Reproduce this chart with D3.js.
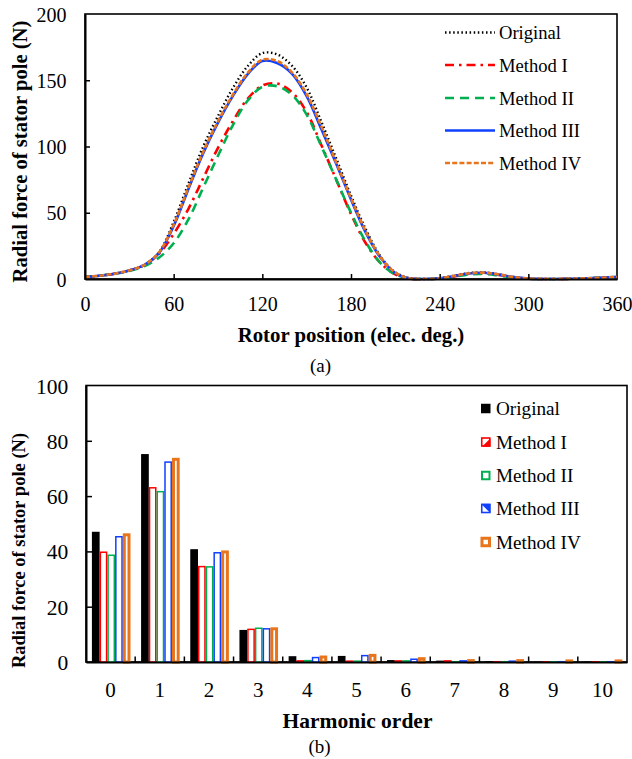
<!DOCTYPE html>
<html><head><meta charset="utf-8">
<script src="https://cdn.jsdelivr.net/npm/d3@7"></script>
<style>
body{margin:0;background:#fff}
svg{display:block}
svg text{font-family:'Liberation Serif','Times New Roman',Times,serif !important;fill:#000}
</style>
</head><body>
<svg id="c" width="632" height="759" font-family="Liberation Serif"></svg>
<script>
// ---------- Data: chart (a) ----------
const angles = [0,10,20,30,40,50,60,70,80,90,100,110,120,130,140,150,160,170,180,190,200,210,220,230,240,250,260,270,280,290,300,310,320,330,340,350,360];
const forceOriginal = [1.5,2.5,4,6.5,10.5,20,43,72,100,123,144,160.5,170.5,169.5,161,144.5,118.5,91,63,37.5,17,5,0.5,0,0.5,2.5,4.5,5,3.5,1.5,0.3,0,0,0.2,0.5,1,1.5];
const forceMethodI = [1.5,2.5,4,6.5,10.5,19,34,53,76,99,119,136,146,147.5,141,126,101,75,49,27,12,3.5,0.3,0,0.4,2,3.8,4.2,3,1.2,0.2,0,0,0.2,0.5,1,1.5];
const forceMethodII = [1.5,2.5,4,6,9.5,16,27,45,69,93,116,134.5,145,145.5,139,124,100,75,50,28,12,3.5,0.3,0,0.4,1.8,3.5,3.8,2.6,1,0.1,0,0,0.2,0.5,1,1.5];
const forceMethodIII = [1.5,2.5,4,6.5,10.5,19.5,40,68,95,118,138,154.5,164.5,163,155,138,113,87,60,35,16,4.5,0.4,0,0.5,2.3,4.2,4.7,3.3,1.4,0.3,0,0,0.2,0.5,1,1.5];
const forceMethodIV = [1.5,2.5,4,6.5,10.5,20,41,69,96,119,139,155.5,165.5,164.5,156,139.5,115,88,61,36,16.5,4.8,0.4,0,0.5,2.4,4.3,4.8,3.4,1.4,0.3,0,0,0.2,0.5,1,1.5];
const xTicksA = [0,60,120,180,240,300,360];
const yTicksA = [0,50,100,150,200];
const seriesNames = ["Original","Method I","Method II","Method III","Method IV"];

// ---------- Data: chart (b) ----------
const harmonics = ["0","1","2","3","4","5","6","7","8","9","10"];
const harmOriginal = [47.1,75.2,40.8,11.6,2.1,2.2,0.7,0.5,0.3,0.1,0.1];
const harmMethodI = [39.7,63.0,34.5,11.8,0.4,0.3,0.4,0.4,0.1,0.05,0.05];
const harmMethodII = [38.6,61.6,34.4,12.2,0.5,0.3,0.4,0.1,0.1,0.05,0.05];
const harmMethodIII = [45.3,72.3,39.5,12.0,1.6,2.3,1.0,0.4,0.3,0.1,0.1];
const harmMethodIV = [46.0,73.3,39.8,12.0,1.8,2.4,1.2,0.5,0.5,0.4,0.4];
const yTicksB = [0,20,40,60,80,100];

const FONT = "'Liberation Serif','Times New Roman',Times,serif";
const svg = d3.select("#c");

// ================= Chart (a) =================
const xA = d3.scaleLinear().domain([0,360]).range([85,617]);
const yA = d3.scaleLinear().domain([0,200]).range([279,14]);
const gA = svg.append("g");

const lineStyles = [
  {color:"#000000", dash:"1.5,2.6", width:2.4},
  {color:"#ff0000", dash:"9,5,2.5,5", width:2.6},
  {color:"#00b050", dash:"9,6", width:2.6},
  {color:"#1040ff", dash:null, width:2.6},
  {color:"#e8741c", dash:"5,2.2", width:2.6}
];
const seriesA = [forceOriginal, forceMethodI, forceMethodII, forceMethodIII, forceMethodIV];
const line = d3.line().x((d,i)=>xA(angles[i])).y(d=>yA(d)).curve(d3.curveCatmullRom.alpha(0.5));

gA.append("rect").attr("x",85).attr("y",14).attr("width",617-85).attr("height",279-14)
  .attr("fill","none").attr("stroke","#000").attr("stroke-width",1.6);

seriesA.forEach((s,k)=>{
  const st = lineStyles[k];
  gA.append("path").datum(s).attr("d",line).attr("fill","none")
    .attr("stroke",st.color).attr("stroke-width",st.width)
    .attr("stroke-dasharray",st.dash);
});

const axA_x = gA.append("g").attr("transform","translate(0,279)")
  .call(d3.axisBottom(xA).tickValues(xTicksA).tickSizeInner(-5).tickSizeOuter(0).tickPadding(0));
axA_x.selectAll("text").attr("y",25).attr("dy","0.35em").style("font-size","20px");
const axA_y = gA.append("g").attr("transform","translate(85,0)")
  .call(d3.axisLeft(yA).tickValues(yTicksA).tickSizeInner(-5).tickSizeOuter(0).tickPadding(18.5));
axA_y.selectAll("text").attr("dy","0.35em").style("font-size","20px");
[axA_x, axA_y].forEach(a=>{
  a.attr("font-family",FONT);
  a.select(".domain").attr("stroke","#000").attr("stroke-width",2);
  a.selectAll(".tick line").attr("stroke","#000").attr("stroke-width",1.5);
});
axA_x.selectAll(".tick").filter(d=>d===0||d===360).select("line").remove();
axA_y.selectAll(".tick").filter(d=>d===0||d===200).select("line").remove();

gA.append("text").attr("x",351).attr("y",335).attr("dy","0.35em").attr("text-anchor","middle")
  .style("font-size","20.8px").style("font-weight","bold").text("Rotor position (elec. deg.)");
gA.append("text").attr("transform","translate(20,151.5) rotate(-90)").attr("dy","0.35em").attr("text-anchor","middle")
  .style("font-size","20.6px").style("font-weight","bold").text("Radial force of stator pole (N)");
gA.append("text").attr("x",320.5).attr("y",365).attr("dy","0.35em").attr("text-anchor","middle")
  .style("font-size","19px").text("(a)");

const legA = gA.append("g");
const legAy = [32.5,65,98,130.5,163];
seriesNames.forEach((n,k)=>{
  const st = lineStyles[k];
  legA.append("line").attr("x1",445).attr("x2",495).attr("y1",legAy[k]).attr("y2",legAy[k])
    .attr("stroke",st.color).attr("stroke-width",st.width).attr("stroke-dasharray",st.dash);
  legA.append("text").attr("x",499).attr("y",legAy[k]).attr("dy","0.35em").style("font-size","18.6px").text(n);
});

// ================= Chart (b) =================
const xB = d3.scaleBand().domain(harmonics).range([86,627]).paddingInner(0).paddingOuter(0);
const yB = d3.scaleLinear().domain([0,100]).range([662,385.5]);
const bw = xB.bandwidth();
const xB1 = d3.scaleBand().domain(seriesNames).range([bw*0.12, bw*0.905]).padding(0);
const gB = svg.append("g");

gB.append("rect").attr("x",86).attr("y",385.5).attr("width",627-86).attr("height",662-385.5)
  .attr("fill","none").attr("stroke","#000").attr("stroke-width",1.6);

const barStyles = [
  {fill:"#000", stroke:"none", sw:0},
  {fill:"#fff", stroke:"#ff0000", sw:1.5},
  {fill:"#fff", stroke:"#00b050", sw:1.5},
  {fill:"#fff", stroke:"#1040ff", sw:1.5},
  {fill:"#fff", stroke:"#e8741c", sw:3}
];
const seriesB = [harmOriginal, harmMethodI, harmMethodII, harmMethodIII, harmMethodIV];
seriesB.forEach((s,k)=>{
  const st = barStyles[k];
  const inset = st.sw/2;
  gB.append("g").selectAll("rect").data(s).join("rect")
    .attr("x",(d,i)=>xB(harmonics[i])+xB1(seriesNames[k])+inset)
    .attr("width",xB1.bandwidth()-2*inset)
    .attr("y",d=>yB(d))
    .attr("height",d=>Math.max(0,yB(0)-yB(d)))
    .attr("fill",st.fill).attr("stroke",st.stroke).attr("stroke-width",st.sw);
});

const sepTicks = harmonics.slice(1).map(h=>xB(h));
gB.append("g").selectAll("line").data(sepTicks).join("line")
  .attr("x1",d=>d).attr("x2",d=>d).attr("y1",662).attr("y2",656.5)
  .attr("stroke","#000").attr("stroke-width",1.5);

const axB_x = gB.append("g").attr("transform","translate(0,662)")
  .call(d3.axisBottom(xB).tickSize(0).tickSizeOuter(0).tickPadding(0));
axB_x.selectAll("text").attr("y",27.3).attr("dy","0.35em").style("font-size","21px");
const axB_y = gB.append("g").attr("transform","translate(86,0)")
  .call(d3.axisLeft(yB).tickValues(yTicksB).tickSizeInner(-6).tickSizeOuter(0).tickPadding(17.7));
axB_y.selectAll("text").attr("dy","0.35em").style("font-size","21.5px");
[axB_x, axB_y].forEach(a=>{
  a.attr("font-family",FONT);
  a.select(".domain").attr("stroke","#000").attr("stroke-width",2);
  a.selectAll(".tick line").attr("stroke","#000").attr("stroke-width",1.5);
});
axB_y.selectAll(".tick").filter(d=>d===0||d===100).select("line").remove();

gB.append("text").attr("x",357.5).attr("y",720).attr("dy","0.35em").attr("text-anchor","middle")
  .style("font-size","21.5px").style("font-weight","bold").text("Harmonic order");
gB.append("text").attr("transform","translate(18.5,550.5) rotate(-90)").attr("dy","0.35em").attr("text-anchor","middle")
  .style("font-size","18.5px").style("font-weight","bold").text("Radial force of stator pole (N)");
gB.append("text").attr("x",319.5).attr("y",746).attr("dy","0.35em").attr("text-anchor","middle")
  .style("font-size","19px").text("(b)");

const legB = gB.append("g");
const legBy = [408.5,442,475.5,508.5,542];
seriesNames.forEach((n,k)=>{
  const y = legBy[k], x = 481, s = 9.5;
  const g = legB.append("g");
  if(k===0){
    g.append("rect").attr("x",x).attr("y",y-s/2).attr("width",s).attr("height",s).attr("fill","#000");
  } else if(k===1){
    g.append("rect").attr("x",x+0.75).attr("y",y-s/2+0.75).attr("width",s-1.5).attr("height",s-1.5).attr("fill","#fff").attr("stroke","#ff0000").attr("stroke-width",1.6);
    g.append("path").attr("d",`M${x+s},${y-s/2+1}L${x+s},${y+s/2}L${x+1},${y+s/2}Z`).attr("fill","#ff0000");
  } else if(k===2){
    g.append("rect").attr("x",x+1).attr("y",y-s/2+1).attr("width",s-2).attr("height",s-2).attr("fill","#fff").attr("stroke","#00b050").attr("stroke-width",2);
  } else if(k===3){
    g.append("rect").attr("x",x+0.75).attr("y",y-s/2+0.75).attr("width",s-1.5).attr("height",s-1.5).attr("fill","#fff").attr("stroke","#1040ff").attr("stroke-width",1.6);
    g.append("path").attr("d",`M${x},${y-s/2}L${x+s},${y-s/2}L${x+s},${y+s/2}Z`).attr("fill","#1040ff");
  } else {
    g.append("rect").attr("x",x+1).attr("y",y-s/2+1).attr("width",s-2).attr("height",s-2).attr("fill","#fff").attr("stroke","#e8741c").attr("stroke-width",3);
  }
  legB.append("text").attr("x",496).attr("y",y).attr("dy","0.35em").style("font-size","19.2px").text(n);
});
</script>
</body></html>
